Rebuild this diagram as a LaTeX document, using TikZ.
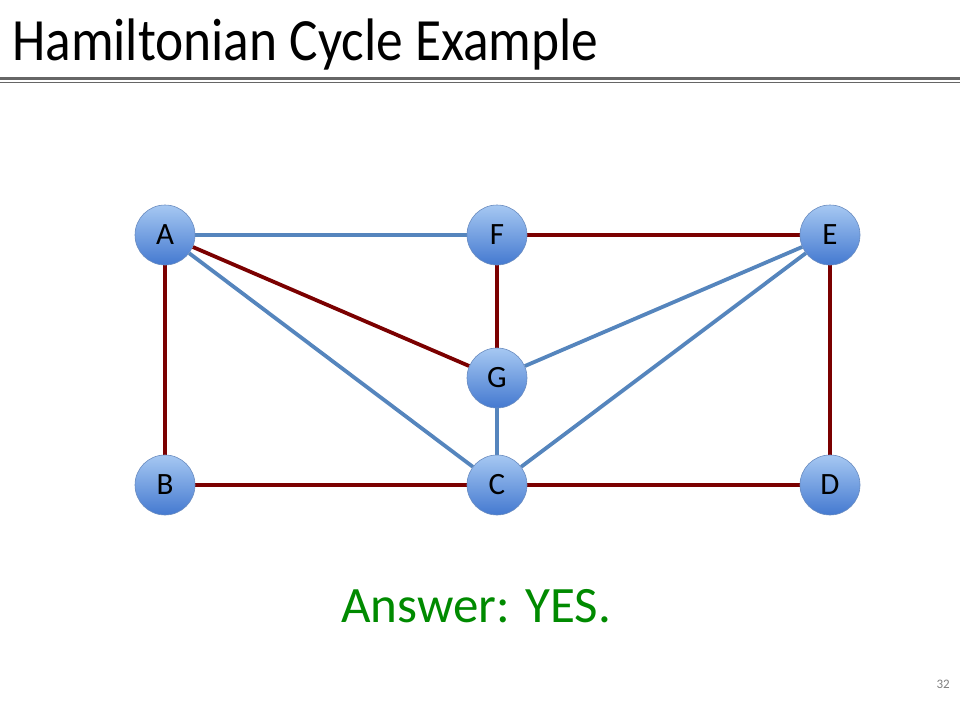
\documentclass[tikz,border=0pt]{standalone}
\usepackage{fontspec}
\setmainfont{Carlito}
\newfontfamily\titlefont[FakeStretch=0.89]{Carlito}
\usetikzlibrary{backgrounds}
\definecolor{cycred}{HTML}{7B0000}
\definecolor{edgeblue}{HTML}{5585BD}
\definecolor{nodetop}{HTML}{A6C8F2}
\definecolor{nodebottom}{HTML}{4479D0}
\definecolor{nodeline}{HTML}{6A8CC0}
\definecolor{answergreen}{HTML}{008A00}

\begin{document}
\begin{tikzpicture}[x=1pt,y=-1pt,
  vertex/.style={circle,minimum size=60pt,inner sep=0pt,draw=nodeline,line width=0.6pt,
    top color=nodetop,bottom color=nodebottom,font=\fontsize{31}{31}\selectfont},
  cyc/.style={cycred,line width=3.8pt},
  other/.style={edgeblue,line width=3.8pt}]
\useasboundingbox (0,0) rectangle (960,720);
% title and rules
\node[anchor=base west,inner sep=0pt,font=\titlefont\fontsize{60}{60}\selectfont] (title) at (12,60) {Hamiltonian Cycle Example};
\fill[gray!80!black] (0,77) rectangle (960,80);
\fill[gray!80!black] (0,82) rectangle (960,83);
% vertices
\node[vertex] (A) at (165,235) {A};
\node[vertex] (F) at (497,235) {F};
\node[vertex] (E) at (830,235) {E};
\node[vertex] (G) at (497,378) {G};
\node[vertex] (B) at (165,485) {B};
\node[vertex] (C) at (497,485) {C};
\node[vertex] (D) at (830,485) {D};
\begin{scope}[on background layer]
\path
(A) edge[other] (F)
(A) edge[other] (C)
(G) edge[other] (E)
(C) edge[other] (E)
(G) edge[other] (C)
(A) edge[cyc] (B)
(B) edge[cyc] (C)
(C) edge[cyc] (D)
(D) edge[cyc] (E)
(E) edge[cyc] (F)
(F) edge[cyc] (G)
(G) edge[cyc] (A)
;
\end{scope}
\node[anchor=base,inner sep=0pt,text=answergreen,font=\fontsize{51}{51}\selectfont] (answer) at (476,622) {Answer: YES.};
\node[anchor=base east,inner sep=0pt,text=gray,font=\fontsize{13}{13}\selectfont] (pagenum) at (950,688) {32};
\end{tikzpicture}
\end{document}
